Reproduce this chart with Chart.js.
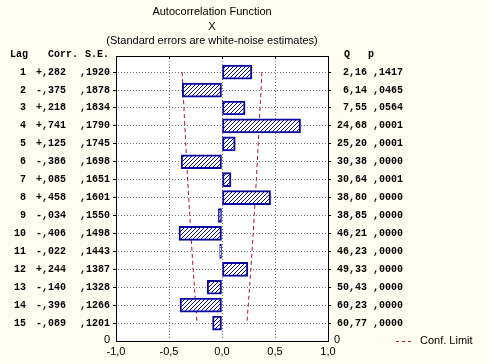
<!DOCTYPE html>
<html>
<head>
<meta charset="utf-8">
<script src="https://cdn.jsdelivr.net/npm/chart.js@4/dist/chart.umd.min.js"></script>
<style>
  html, body { margin: 0; padding: 0; background: #FFFCF0; }
  canvas { display: block; }
</style>
</head>
<body>
<canvas id="c" width="488" height="364"></canvas>
<script>
const lags = [1, 2, 3, 4, 5, 6, 7, 8, 9, 10, 11, 12, 13, 14, 15];
const corr = [0.282, -0.375, 0.218, 0.741, 0.125, -0.386, 0.085, 0.458, -0.034, -0.406, -0.022, 0.244, -0.140, -0.396, -0.089];
const stdErr = [0.1920, 0.1878, 0.1834, 0.1790, 0.1745, 0.1698, 0.1651, 0.1601, 0.1550, 0.1498, 0.1443, 0.1387, 0.1328, 0.1266, 0.1201];
const qStat = [2.16, 6.14, 7.55, 24.68, 25.20, 30.38, 30.64, 38.80, 38.85, 46.21, 46.23, 49.33, 50.43, 60.23, 60.77];
const pVal = [0.1417, 0.0465, 0.0564, 0.0001, 0.0001, 0.0000, 0.0001, 0.0000, 0.0000, 0.0000, 0.0000, 0.0000, 0.0000, 0.0000, 0.0000];
const confLimit = [0.376, 0.368, 0.359, 0.351, 0.342, 0.333, 0.324, 0.314, 0.304, 0.294, 0.283, 0.272, 0.260, 0.248, 0.235];
const xTicks = [-1.0, -0.5, 0.0, 0.5, 1.0];
const xGrid = [-0.5, 0.0, 0.5];
const titleLines = ['Autocorrelation Function', 'X', '(Standard errors are white-noise estimates)'];

const NAVY = '#0A0AA0';
const RED = '#A8123A';
const GRID = '#707070';
const MONO = 'bold 10px "Liberation Mono", "DejaVu Sans Mono", monospace';
const SANS = '11px "Liberation Sans", Arial, sans-serif';

function hatch() {
  const c = document.createElement('canvas');
  c.width = 4; c.height = 4;
  const g = c.getContext('2d');
  g.fillStyle = '#FFFFFF';
  g.fillRect(0, 0, 4, 4);
  g.fillStyle = NAVY;
  for (let i = 0; i < 4; i++) g.fillRect(3 - i, i, 1, 1);
  return g.createPattern(c, 'repeat');
}

const fmtComma = (v, d) => v.toFixed(d).replace('.', ',');
const fmtCorr = v => (v >= 0 ? '+' : '-') + Math.abs(v).toFixed(3).slice(1).replace('.', ',');
const fmtFrac = v => v.toFixed(4).slice(1).replace('.', ',');

const bgPlugin = {
  id: 'bg',
  beforeDraw(chart) {
    const { ctx, chartArea: a } = chart;
    ctx.save();
    ctx.fillStyle = '#FFFCF0';
    ctx.fillRect(0, 0, chart.width, chart.height);
    ctx.fillStyle = '#FFFFFF';
    ctx.fillRect(a.left, a.top, a.right - a.left, a.bottom - a.top);
    ctx.restore();
  },
  beforeDatasetsDraw(chart) {
    const { ctx, chartArea: a } = chart;
    const x = chart.scales.x, y = chart.scales.y;
    ctx.save();
    ctx.fillStyle = GRID;
    lags.forEach(l => {
      const py = Math.floor(y.getPixelForValue(l));
      for (let px = Math.ceil(a.left) + 2; px < a.right - 1; px += 3) ctx.fillRect(px, py, 1, 1);
    });
    xGrid.forEach(v => {
      const px = Math.floor(x.getPixelForValue(v));
      for (let py = Math.ceil(a.top) + 2; py < a.bottom - 1; py += 3) ctx.fillRect(px, py, 1, 1);
    });
    ctx.restore();
  }
};

const textPlugin = {
  id: 'tableText',
  afterDraw(chart) {
    const { ctx, chartArea: a } = chart;
    const y = chart.scales.y;
    const x = chart.scales.x;
    ctx.save();
    ctx.strokeStyle = '#000';
    ctx.lineWidth = 1;
    ctx.beginPath();
    ctx.moveTo(a.left, a.top + 0.5);
    ctx.lineTo(a.right, a.top + 0.5);
    xGrid.forEach(v => {
      const px = Math.floor(x.getPixelForValue(v)) + 0.5;
      ctx.moveTo(px, a.top);
      ctx.lineTo(px, a.top + 3);
    });
    ctx.stroke();

    ctx.fillStyle = '#000';
    ctx.font = SANS;
    ctx.textAlign = 'center';
    ctx.textBaseline = 'middle';
    const tx = 212;
    ctx.fillText(titleLines[0], tx, 12);
    ctx.fillText(titleLines[1], tx, 27);
    ctx.fillText(titleLines[2], tx, 41);

    ctx.font = MONO;
    ctx.textAlign = 'left';
    ctx.fillText('Lag', 10, 54);
    ctx.fillText('Corr.', 48, 54);
    ctx.fillText('S.E.', 85, 54);
    ctx.textAlign = 'center';
    ctx.fillText('Q', 347, 54);
    ctx.fillText('p', 371, 54);

    lags.forEach((lag, i) => {
      const py = y.getPixelForValue(lag);
      ctx.textAlign = 'right';
      ctx.fillText(String(lag), 26, py);
      ctx.textAlign = 'left';
      ctx.fillText(fmtCorr(corr[i]), 36, py);
      ctx.textAlign = 'right';
      ctx.fillText(fmtFrac(stdErr[i]), 110, py);
      ctx.fillText(fmtComma(qStat[i], 2), 367, py);
      ctx.fillText(fmtFrac(pVal[i]), 403, py);
    });
    ctx.font = SANS;
    ctx.textAlign = 'center';
    ctx.fillText('0', 107, a.bottom - 1);
    ctx.fillText('0', 337, a.bottom - 1);

    ctx.strokeStyle = RED;
    ctx.setLineDash([3, 3]);
    ctx.beginPath();
    ctx.moveTo(396, a.bottom + 0.5);
    ctx.lineTo(414, a.bottom + 0.5);
    ctx.stroke();
    ctx.setLineDash([]);
    ctx.textAlign = 'left';
    ctx.fillText('Conf. Limit', 420, a.bottom);
    ctx.restore();
  }
};

const lagTicks = scale => { scale.ticks = lags.map(v => ({ value: v })); };

new Chart(document.getElementById('c'), {
  type: 'bar',
  data: {
    datasets: [
      {
        type: 'bar',
        data: lags.map((l, i) => ({ x: corr[i], y: l })),
        backgroundColor: hatch(),
        borderColor: NAVY,
        borderWidth: 2,
        borderSkipped: false,
        barThickness: 14,
        xAxisID: 'x', yAxisID: 'y'
      },
      {
        type: 'line',
        data: lags.map((l, i) => ({ x: confLimit[i], y: l })),
        borderColor: RED, borderWidth: 1, borderDash: [4, 3],
        pointRadius: 0, fill: false, tension: 0,
        xAxisID: 'x', yAxisID: 'y'
      },
      {
        type: 'line',
        data: lags.map((l, i) => ({ x: -confLimit[i], y: l })),
        borderColor: RED, borderWidth: 1, borderDash: [4, 3],
        pointRadius: 0, fill: false, tension: 0,
        xAxisID: 'x', yAxisID: 'y'
      }
    ]
  },
  options: {
    indexAxis: 'y',
    responsive: false,
    animation: false,
    devicePixelRatio: 1,
    layout: { padding: { top: 56, left: 0, right: 0, bottom: 0 } },
    plugins: { legend: { display: false }, tooltip: { enabled: false }, title: { display: false } },
    scales: {
      x: {
        type: 'linear', position: 'bottom', min: -1, max: 1, offset: false,
        afterBuildTicks: s => { s.ticks = xTicks.map(v => ({ value: v })); },
        afterFit: s => { s.height = 23; },
        ticks: { callback: v => fmtComma(v, 1), font: { family: '"Liberation Sans", Arial, sans-serif', size: 11 }, color: '#000', padding: 4, maxRotation: 0 },
        grid: { drawOnChartArea: false, drawTicks: false, offset: false },
        border: { display: true, color: '#000', width: 1 }
      },
      y: {
        type: 'linear', position: 'left', min: 0.1, max: 16, reverse: true, offset: false,
        afterBuildTicks: lagTicks,
        afterFit: s => { s.width = 116; },
        ticks: { display: false },
        grid: { drawOnChartArea: false, offset: false, color: '#000', tickColor: '#000', tickLength: 3, lineWidth: 1 },
        border: { display: true, color: '#000', width: 1 }
      },
      y2: {
        type: 'linear', position: 'right', min: 0.1, max: 16, reverse: true, offset: false,
        afterBuildTicks: lagTicks,
        afterFit: s => { s.width = 160; },
        ticks: { display: false },
        grid: { drawOnChartArea: false, offset: false, color: '#000', tickColor: '#000', tickLength: 3 },
        border: { color: '#000', width: 1 }
      }
    }
  },
  plugins: [bgPlugin, textPlugin]
});
</script>
</body>
</html>
